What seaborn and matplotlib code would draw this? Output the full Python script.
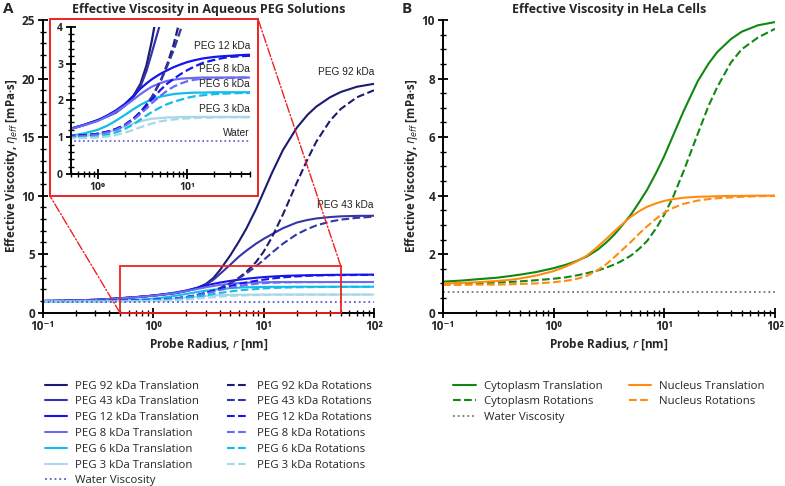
import numpy as np
import pandas as pd
import seaborn as sns
import matplotlib
matplotlib.use('Agg')
import matplotlib.pyplot as plt
from matplotlib.patches import Rectangle, ConnectionPatch
from matplotlib.ticker import MultipleLocator, LogLocator, NullFormatter

# raio da sonda [nm] (grade comum de leitura)
raio = [0.1, 0.15, 0.2, 0.3, 0.4, 0.5, 0.7, 1, 1.3, 1.6, 2, 2.5, 3, 3.5, 4, 5, 6, 7, 8.5,
        10, 12, 15, 20, 25, 30, 40, 50, 70, 100]

# PEG - translacao
peg92_t = [1.0, 1.02, 1.05, 1.1, 1.17, 1.23, 1.33, 1.46, 1.58, 1.68, 1.86, 2.12, 2.45, 2.95, 3.6,
           4.9, 6.1, 7.2, 8.8, 10.3, 12.0, 13.9, 15.8, 16.9, 17.6, 18.4, 18.85, 19.3, 19.55]
peg43_t = [1.0, 1.02, 1.05, 1.1, 1.17, 1.23, 1.33, 1.46, 1.57, 1.67, 1.85, 2.08, 2.38, 2.8, 3.28,
           4.1, 4.8, 5.3, 5.88, 6.3, 6.72, 7.22, 7.7, 7.92, 8.05, 8.17, 8.23, 8.27, 8.28]
peg12_t = [1.0, 1.02, 1.05, 1.1, 1.17, 1.23, 1.33, 1.46, 1.6, 1.73, 1.9, 2.12, 2.32, 2.46, 2.57,
           2.72, 2.82, 2.9, 2.98, 3.04, 3.09, 3.14, 3.18, 3.2, 3.21, 3.23, 3.24, 3.25, 3.25]
peg8_t = [1.0, 1.02, 1.05, 1.1, 1.16, 1.22, 1.32, 1.44, 1.57, 1.69, 1.85, 2.02, 2.17, 2.28, 2.37,
          2.47, 2.53, 2.56, 2.59, 2.6, 2.61, 2.62, 2.62, 2.62, 2.62, 2.62, 2.62, 2.62, 2.62]
peg6_t = [0.98, 0.98, 0.99, 1.0, 1.02, 1.04, 1.1, 1.2, 1.32, 1.45, 1.6, 1.76, 1.88, 1.96, 2.02,
          2.1, 2.14, 2.17, 2.19, 2.2, 2.21, 2.21, 2.22, 2.22, 2.22, 2.22, 2.22, 2.22, 2.22]
peg3_t = [0.97, 0.97, 0.97, 0.98, 0.99, 1.0, 1.03, 1.08, 1.14, 1.21, 1.29, 1.37, 1.43, 1.47, 1.5,
          1.52, 1.535, 1.54, 1.545, 1.55, 1.55, 1.55, 1.55, 1.55, 1.55, 1.55, 1.55, 1.55, 1.55]

# PEG - rotacao
peg92_r = [1.0, 1.0, 1.0, 1.01, 1.02, 1.03, 1.05, 1.09, 1.15, 1.22, 1.33, 1.5, 1.68, 1.88, 2.08,
           2.52, 3.0, 3.5, 4.3, 5.2, 6.5, 8.4, 11.1, 13.1, 14.6, 16.4, 17.4, 18.4, 19.0]
peg43_r = [1.0, 1.0, 1.0, 1.01, 1.02, 1.03, 1.05, 1.09, 1.15, 1.22, 1.33, 1.5, 1.68, 1.88, 2.08,
           2.5, 2.95, 3.35, 3.95, 4.5, 5.15, 5.9, 6.7, 7.15, 7.45, 7.78, 7.95, 8.1, 8.2]
peg12_r = [1.0, 1.0, 1.0, 1.01, 1.02, 1.03, 1.05, 1.09, 1.15, 1.22, 1.33, 1.5, 1.68, 1.86, 2.02,
           2.28, 2.46, 2.58, 2.72, 2.82, 2.92, 3.02, 3.1, 3.15, 3.18, 3.2, 3.21, 3.22, 3.23]
peg8_r = [0.99, 0.99, 0.99, 1.0, 1.0, 1.01, 1.03, 1.07, 1.13, 1.2, 1.31, 1.47, 1.63, 1.78, 1.92,
          2.12, 2.27, 2.37, 2.46, 2.52, 2.56, 2.59, 2.6, 2.61, 2.61, 2.62, 2.62, 2.62, 2.62]
peg6_r = [0.97, 0.97, 0.97, 0.97, 0.97, 0.98, 0.99, 1.02, 1.07, 1.13, 1.22, 1.35, 1.48, 1.59, 1.68,
          1.81, 1.9, 1.96, 2.02, 2.07, 2.11, 2.14, 2.17, 2.18, 2.19, 2.2, 2.2, 2.21, 2.21]
peg3_r = [0.96, 0.96, 0.96, 0.96, 0.96, 0.97, 0.98, 0.99, 1.02, 1.06, 1.12, 1.2, 1.27, 1.32, 1.37,
          1.43, 1.46, 1.48, 1.5, 1.51, 1.52, 1.53, 1.53, 1.54, 1.54, 1.54, 1.54, 1.54, 1.54]
agua_peg = 0.89

# HeLa
cito_t = [1.06, 1.1, 1.14, 1.19, 1.25, 1.3, 1.39, 1.52, 1.64, 1.76, 1.92, 2.15, 2.4, 2.65, 2.9,
          3.35, 3.8, 4.2, 4.8, 5.35, 6.05, 6.9, 7.9, 8.5, 8.9, 9.35, 9.6, 9.82, 9.93]
cito_r = [0.98, 1.0, 1.01, 1.03, 1.05, 1.07, 1.11, 1.16, 1.21, 1.27, 1.35, 1.44, 1.54, 1.64, 1.74,
          1.95, 2.2, 2.45, 2.9, 3.35, 3.95, 4.85, 6.1, 7.05, 7.7, 8.55, 9.0, 9.4, 9.7]
nucleo_t = [1.0, 1.02, 1.04, 1.08, 1.12, 1.17, 1.27, 1.42, 1.58, 1.74, 1.95, 2.25, 2.52, 2.76, 2.96,
            3.28, 3.48, 3.62, 3.74, 3.82, 3.88, 3.93, 3.96, 3.97, 3.98, 3.99, 3.99, 4.0, 4.0]
nucleo_r = [0.95, 0.95, 0.96, 0.96, 0.97, 0.98, 1.0, 1.04, 1.09, 1.15, 1.26, 1.45, 1.66, 1.88, 2.08,
            2.42, 2.72, 2.95, 3.22, 3.42, 3.58, 3.72, 3.83, 3.88, 3.91, 3.94, 3.96, 3.98, 3.99]
agua_hela = 0.7

nomes_peg = ['PEG 92 kDa', 'PEG 43 kDa', 'PEG 12 kDa', 'PEG 8 kDa', 'PEG 6 kDa', 'PEG 3 kDa']
cores_peg = ['#1b1b72', '#3535a8', '#1515ee', '#6b6bf2', '#12bde8', '#a6d8ea']
series_t = [peg92_t, peg43_t, peg12_t, peg8_t, peg6_t, peg3_t]
series_r = [peg92_r, peg43_r, peg12_r, peg8_r, peg6_r, peg3_r]

rotulos_x = ['10⁻¹', '10⁰', '10¹', '10²']
fonte_rotulo = ['Liberation Sans', 'DejaVu Sans']

sns.set_style('ticks')
plt.rcParams['font.family'] = ['Open Sans', 'DejaVu Sans']
plt.rcParams['mathtext.fontset'] = 'custom'
plt.rcParams['mathtext.it'] = 'DejaVu Sans:italic'
plt.rcParams['mathtext.rm'] = 'Open Sans'

fig = plt.figure(figsize=(7.85, 4.86), dpi=100)
ax_a = fig.add_axes([0.0544, 0.3566, 0.422, 0.6022])
ax_b = fig.add_axes([0.564, 0.3566, 0.4233, 0.6022])


def linha(ax, y, cor, estilo, rotulo=None, lw=1.5):
    sns.lineplot(x=raio, y=y, ax=ax, color=cor, linestyle=estilo,
                 linewidth=lw, label=rotulo, legend=False)
    return ax.lines[-1]


def estilizar(ax, ymax, ymaj, ymin, fs=8.5):
    ax.set_xscale('log')
    ax.set_xlim(raio[0], raio[-1])
    ax.set_ylim(0, ymax)
    ax.yaxis.set_major_locator(MultipleLocator(ymaj))
    ax.yaxis.set_minor_locator(MultipleLocator(ymin))
    ax.xaxis.set_minor_locator(LogLocator(base=10, subs=np.arange(2, 10)))
    ax.xaxis.set_minor_formatter(NullFormatter())
    for s in ['left', 'bottom']:
        ax.spines[s].set_linewidth(1.4)
        ax.spines[s].set_color('black')
    sns.despine(ax=ax)
    ax.tick_params(which='major', direction='inout', length=7, width=1.3,
                   labelsize=fs, color='black', pad=2)
    ax.tick_params(which='minor', direction='inout', length=4, width=1.0, color='black')
    for t in ax.get_yticklabels():
        t.set_fontweight('bold')


def rotulos_eixos(ax, titulo):
    ax.set_xticks([0.1, 1, 10, 100], labels=rotulos_x)
    for t in ax.get_xticklabels():
        t.set_fontweight('bold')
    ax.set_title(titulo, fontsize=9, fontweight='bold', pad=5)
    ax.set_xlabel('Probe Radius, $r$ [nm]', fontsize=8.5, fontweight='bold', labelpad=2)
    ax.set_ylabel(r'Effective Viscosity, $\eta_{eff}$ [mPa·s]', fontsize=8.3,
                  fontweight='bold', labelpad=1)


# ---- painel A
linhas_t = []
linhas_r = []
for nome, cor, yt in zip(nomes_peg, cores_peg, series_t):
    linhas_t.append(linha(ax_a, yt, cor, '-', f'{nome} Translation'))
for nome, cor, yr in zip(nomes_peg, cores_peg, series_r):
    linhas_r.append(linha(ax_a, yr, cor, '--', f'{nome} Rotations'))
agua_a = linha(ax_a, [agua_peg] * len(raio), '#5a5ad0', ':', 'Water Viscosity', lw=1.3)

estilizar(ax_a, 25, 5, 1)
rotulos_eixos(ax_a, 'Effective Viscosity in Aqueous PEG Solutions')
ax_a.text(100, 20.1, 'PEG 92 kDa', ha='right', va='bottom', fontsize=7.3,
          family=fonte_rotulo, color='#222222')
ax_a.text(100, 8.75, 'PEG 43 kDa', ha='right', va='bottom', fontsize=7.3,
          family=fonte_rotulo, color='#222222')

ax_a.add_patch(Rectangle((0.5, 0), 49.5, 4, fill=False, ec='#ee2222', lw=1.3,
                         zorder=6, clip_on=False))

ax_a.legend(handles=linhas_t + [agua_a] + linhas_r, loc='upper center',
            bbox_to_anchor=(0.5, -0.197), ncol=2, frameon=False, fontsize=8.2,
            handlelength=2.0, handletextpad=0.7, labelspacing=0.42, columnspacing=2.4)

# quadro do inset
quadro = (0.0637, 0.5967, 0.265, 0.3642)
fig.add_artist(Rectangle(quadro[:2], quadro[2], quadro[3], transform=fig.transFigure,
                         fc='white', ec='#ee2222', lw=1.4, zorder=2))
fig.add_artist(ConnectionPatch(xyA=(0.5, 0), coordsA=ax_a.transData,
                               xyB=(quadro[0], quadro[1]), coordsB=fig.transFigure,
                               color='#ee2222', linestyle='-.', lw=1.0, zorder=1.5))
fig.add_artist(ConnectionPatch(xyA=(50, 4), coordsA=ax_a.transData,
                               xyB=(quadro[0] + quadro[2], quadro[1] + quadro[3]),
                               coordsB=fig.transFigure,
                               color='#ee2222', linestyle='-.', lw=1.0, zorder=1.5))

ax_in = fig.add_axes([0.0901, 0.642, 0.2284, 0.303])
ax_in.set_zorder(3)
for cor, yt in zip(cores_peg, series_t):
    linha(ax_in, yt, cor, '-', lw=1.6)
for cor, yr in zip(cores_peg, series_r):
    linha(ax_in, yr, cor, '--', lw=1.6)
linha(ax_in, [agua_peg] * len(raio), '#5a5ad0', ':', lw=1.2)
estilizar(ax_in, 4, 1, 0.2, fs=7.5)
ax_in.set_xlim(0.5, 50)
ax_in.set_xticks([1, 10], labels=rotulos_x[1:3])
for t in ax_in.get_xticklabels():
    t.set_fontweight('bold')
ax_in.set_xlabel('')
ax_in.set_ylabel('')
for nome, y in zip(['PEG 12 kDa', 'PEG 8 kDa', 'PEG 6 kDa', 'PEG 3 kDa', 'Water'],
                   [3.33, 2.72, 2.3, 1.64, 0.98]):
    ax_in.text(50, y, nome, ha='right', va='bottom', fontsize=7.3,
               family=fonte_rotulo, color='#222222')

# ---- painel B
l1 = linha(ax_b, cito_t, '#118811', '-', 'Cytoplasm Translation')
l2 = linha(ax_b, cito_r, '#118811', '--', 'Cytoplasm Rotations')
l3 = linha(ax_b, nucleo_t, '#ff8c10', '-', 'Nucleus Translation')
l4 = linha(ax_b, nucleo_r, '#ff8c10', '--', 'Nucleus Rotations')
l5 = linha(ax_b, [agua_hela] * len(raio), '#777777', ':', 'Water Viscosity', lw=1.3)

estilizar(ax_b, 10, 2, 0.5)
rotulos_eixos(ax_b, 'Effective Viscosity in HeLa Cells')
ax_b.legend(handles=[l1, l2, l5, l3, l4], loc='upper center',
            bbox_to_anchor=(0.5, -0.197), ncol=2, frameon=False, fontsize=8.2,
            handlelength=2.0, handletextpad=0.7, labelspacing=0.42, columnspacing=2.3)

fig.text(0.004, 0.995, 'A', fontsize=11, fontweight='bold', va='top')
fig.text(0.512, 0.995, 'B', fontsize=11, fontweight='bold', va='top')

fig.savefig('out.png', dpi=100)
